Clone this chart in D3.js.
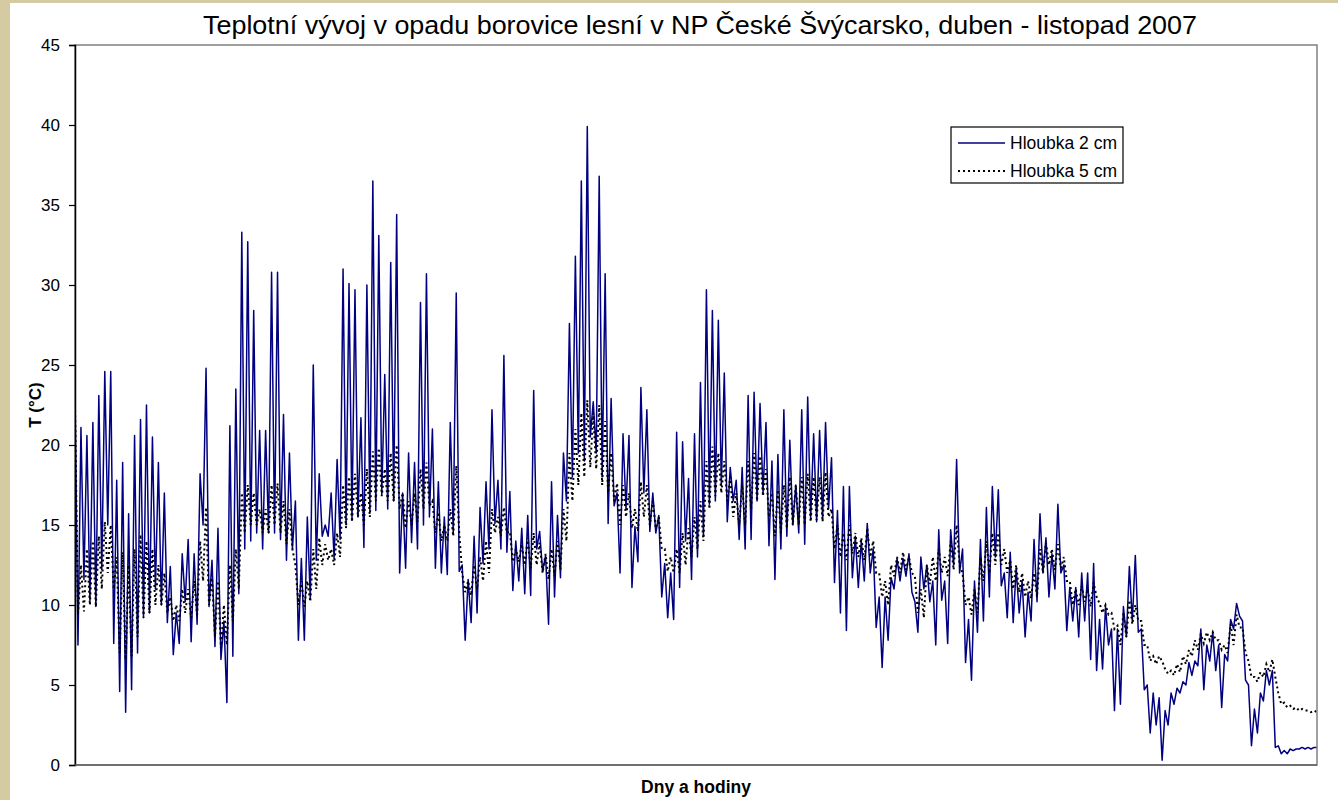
<!DOCTYPE html>
<html>
<head>
<meta charset="utf-8">
<script src="https://cdn.jsdelivr.net/npm/d3@7"></script>
<style>
  body { margin: 0; background: #fff; }
  svg { display: block; font-family: Arial, "Liberation Sans", sans-serif; }
</style>
</head>
<body>
<svg id="chart" width="1338" height="800"></svg>
<script>
// chart texts
const chartTitle = "Teplotní vývoj v opadu borovice lesní v NP České Švýcarsko, duben - listopad 2007";
const yTitle = "T (°C)";
const xTitle = "Dny a hodiny";
const seriesNames = ["Hloubka 2 cm", "Hloubka 5 cm"];
const yTicks = [0, 5, 10, 15, 20, 25, 30, 35, 40, 45];

// daily maximum / minimum, one value per day (duben -> listopad)
const t2max = [
  23.3, 21.1, 20.6, 21.4, 23.1, 24.6, 24.6, 17.8, 18.9, 15.7,
  20.6, 21.6, 22.5, 20.5, 18.9, 17.0, 12.4, 9.5, 13.2, 14.1,
  13.2, 18.2, 24.8, 12.8, 14.8, 9.0, 21.2, 23.5, 33.3, 32.7,
  28.4, 20.9, 20.9, 30.8, 30.8, 21.9, 19.5, 16.5, 12.9, 15.5,
  25.0, 18.2, 15.0, 17.0, 19.1, 31.0, 30.1, 29.7, 21.7, 30.0,
  36.5, 33.1, 24.4, 31.4, 34.4, 17.0, 19.5, 18.9, 28.9, 30.7,
  21.0, 17.7, 15.5, 21.4, 29.5, 12.5, 11.6, 14.3, 16.1, 17.7,
  22.2, 17.8, 25.6, 17.1, 14.0, 14.8, 15.6, 23.4, 14.6, 13.1,
  17.7, 15.6, 19.5, 27.6, 31.8, 36.5, 39.9, 22.7, 36.8, 30.7,
  22.9, 17.0, 20.7, 20.6, 14.9, 23.6, 22.2, 17.0, 15.6, 12.6,
  12.0, 20.8, 20.2, 17.9, 20.7, 23.9, 29.7, 28.4, 27.8, 24.5,
  18.6, 17.8, 18.6, 23.1, 23.3, 22.6, 21.4, 19.0, 19.4, 22.2,
  20.3, 17.5, 22.2, 23.0, 20.7, 20.9, 21.4, 19.2, 15.9, 17.4,
  17.4, 14.3, 14.0, 15.1, 13.5, 10.5, 10.5, 11.7, 12.9, 12.9,
  13.2, 10.2, 13.0, 12.5, 11.5, 14.7, 11.5, 14.7, 19.1, 13.5,
  9.1, 11.5, 14.1, 16.1, 17.4, 17.2, 12.0, 13.3, 12.3, 11.5,
  10.8, 14.1, 15.7, 14.2, 13.2, 16.3, 12.5, 11.1, 11.1, 12.0,
  12.0, 12.6, 9.1, 9.9, 8.5, 8.5, 9.9, 12.4, 13.1, 8.5,
  5.0, 4.5, 4.2, 3.4, 4.5, 4.8, 5.2, 6.4, 6.5, 8.5,
  7.5, 8.3, 7.5, 6.9, 9.1, 10.1, 9.0, 5.0, 3.5, 4.5,
  5.9, 5.9, 1.2, 0.9, 1.0, 1.0, 1.1, 1.1, 1.1
];
const t2min = [
  7.5, 11.6, 10.3, 9.9, 12.2, 15.0, 7.6, 4.6, 3.3, 4.7,
  7.0, 9.2, 9.5, 11.0, 10.0, 8.9, 6.9, 7.6, 10.2, 7.7,
  8.8, 15.0, 9.9, 7.4, 6.6, 3.9, 6.8, 10.7, 13.5, 14.0,
  14.5, 13.5, 14.5, 14.5, 14.1, 12.8, 13.5, 7.8, 7.8, 10.4,
  12.8, 14.3, 14.3, 12.9, 14.1, 15.1, 15.3, 15.5, 13.6, 15.9,
  15.9, 16.9, 16.0, 16.5, 12.0, 12.3, 13.9, 13.5, 15.0, 15.5,
  12.3, 12.0, 11.9, 14.5, 12.1, 7.8, 8.9, 9.5, 12.6, 13.5,
  15.1, 13.5, 13.3, 10.9, 11.5, 10.7, 10.6, 13.5, 12.1, 8.8,
  10.5, 11.7, 16.5, 18.0, 19.5, 19.0, 20.5, 19.5, 18.0, 15.1,
  16.2, 12.0, 16.0, 11.1, 12.7, 17.0, 14.6, 14.5, 10.5, 9.2,
  9.1, 11.1, 14.0, 11.6, 13.0, 14.3, 16.3, 16.5, 17.5, 15.2,
  16.5, 14.1, 13.5, 14.1, 16.5, 17.0, 13.7, 11.6, 13.5, 14.3,
  15.0, 14.5, 13.8, 15.4, 15.2, 15.4, 16.0, 11.4, 9.5, 8.4,
  11.7, 11.1, 11.5, 12.0, 8.6, 6.1, 7.8, 11.0, 11.5, 11.8,
  10.8, 8.3, 11.0, 10.2, 7.5, 10.3, 7.6, 12.5, 12.0, 6.4,
  5.3, 8.3, 9.0, 10.5, 13.0, 11.2, 9.2, 8.9, 9.5, 8.0,
  9.0, 10.2, 12.0, 10.5, 11.0, 12.0, 8.4, 9.0, 8.0, 9.0,
  6.6, 5.9, 6.0, 7.5, 3.4, 3.8, 8.0, 9.0, 8.3, 4.7,
  2.0, 2.5, 0.3, 2.5, 3.8, 4.5, 5.0, 5.6, 6.2, 4.7,
  6.5, 5.9, 3.6, 6.5, 8.5, 9.3, 5.3, 1.2, 2.0, 4.0,
  5.0, 1.1, 0.7, 0.7, 0.9, 1.0, 1.0, 1.0, 1.1
];
const t5max = [
  22.5, 12.5, 13.5, 14.0, 14.3, 15.2, 15.0, 13.0, 13.3, 12.5,
  13.5, 14.4, 14.0, 13.5, 12.5, 12.0, 10.5, 10.0, 11.0, 11.0,
  11.5, 14.0, 16.1, 11.7, 11.5, 10.0, 12.5, 13.5, 17.0, 17.5,
  17.0, 16.0, 16.0, 17.5, 17.6, 16.5, 16.0, 12.5, 11.5, 11.5,
  13.5, 14.2, 13.8, 13.5, 14.5, 17.5, 18.0, 18.2, 17.0, 18.5,
  19.6, 19.8, 18.5, 19.5, 20.0, 17.0, 16.5, 17.0, 18.5, 18.9,
  16.5, 15.8, 15.0, 16.0, 18.7, 12.0, 11.5, 12.5, 13.0, 14.0,
  16.0, 15.5, 16.1, 14.6, 13.5, 13.8, 14.2, 14.5, 13.9, 13.2,
  13.5, 14.0, 16.0, 19.5, 21.0, 22.0, 22.8, 22.0, 22.5, 21.5,
  19.5, 17.6, 17.5, 17.0, 16.0, 17.7, 17.5, 16.5, 15.5, 13.5,
  13.0, 13.5, 14.5, 14.8, 15.5, 16.5, 19.0, 19.9, 19.5, 19.0,
  18.0, 17.0, 17.5, 19.0, 19.5, 19.3, 18.5, 17.0, 17.2, 17.5,
  18.0, 17.5, 18.0, 18.2, 18.0, 18.0, 18.3, 16.0, 15.0, 14.5,
  15.0, 14.5, 14.2, 14.8, 14.0, 12.0, 11.5, 12.5, 13.0, 13.3,
  13.0, 11.8, 11.0, 12.5, 13.0, 13.5, 13.0, 14.0, 15.0, 12.0,
  10.5, 11.0, 13.0, 14.0, 14.5, 14.5, 13.5, 12.8, 12.5, 12.0,
  11.5, 12.0, 13.5, 13.9, 13.5, 13.8, 13.0, 11.5, 11.0, 11.2,
  11.0, 11.4, 10.1, 10.0, 9.5, 8.7, 9.5, 10.3, 10.0, 9.0,
  7.5, 6.8, 6.8, 6.0, 5.9, 6.3, 6.8, 7.2, 7.8, 8.2,
  8.3, 8.3, 7.8, 7.5, 8.8, 9.4, 8.6, 6.5, 5.5, 5.8,
  6.3, 6.6, 4.5, 3.9, 3.7, 3.6, 3.5, 3.4, 3.4
];
const t5min = [
  9.4, 9.6, 10.0, 9.9, 11.0, 12.0, 11.0, 7.0, 6.6, 6.8,
  8.0, 9.2, 9.5, 10.0, 10.0, 9.5, 9.0, 9.0, 9.5, 9.2,
  9.4, 11.5, 10.0, 8.0, 7.3, 7.5, 9.0, 11.0, 14.5, 15.0,
  15.0, 14.5, 14.5, 15.0, 14.5, 13.8, 13.5, 10.0, 9.9, 10.2,
  11.0, 12.5, 12.8, 12.5, 13.0, 14.8, 15.2, 15.5, 15.0, 15.5,
  16.5, 16.8, 16.5, 16.5, 16.0, 14.8, 15.0, 15.2, 16.0, 16.2,
  14.5, 14.0, 14.0, 14.3, 14.5, 10.8, 10.6, 11.0, 11.5, 12.0,
  14.5, 14.3, 14.5, 12.7, 12.7, 12.5, 12.3, 12.5, 12.0, 11.6,
  11.8, 12.2, 14.0, 16.5, 17.5, 18.0, 18.6, 18.5, 17.5, 17.0,
  16.5, 15.0, 15.5, 14.8, 14.6, 15.5, 15.0, 14.8, 13.5, 12.1,
  12.0, 12.0, 12.5, 13.0, 13.5, 14.0, 16.0, 16.8, 17.0, 16.5,
  15.5, 15.0, 15.0, 16.0, 16.5, 16.8, 15.5, 14.3, 14.5, 14.8,
  15.0, 15.0, 15.0, 15.2, 15.3, 15.2, 15.5, 13.5, 13.0, 12.8,
  13.2, 13.0, 12.8, 13.0, 12.0, 10.5, 10.0, 11.8, 12.0, 12.2,
  12.0, 9.5, 9.2, 11.3, 11.5, 12.0, 11.8, 12.2, 12.5, 10.0,
  9.4, 9.5, 11.5, 12.0, 12.5, 12.5, 12.0, 11.0, 10.8, 10.5,
  10.4, 10.5, 12.0, 12.5, 12.2, 12.3, 11.5, 10.0, 10.0, 10.2,
  9.9, 10.5, 9.5, 9.4, 8.5, 7.5, 8.0, 8.8, 9.0, 7.5,
  6.5, 6.3, 6.5, 5.7, 5.6, 5.8, 6.3, 6.8, 7.2, 7.6,
  7.8, 7.8, 7.2, 7.0, 7.5, 8.6, 7.0, 5.5, 5.2, 5.5,
  5.8, 5.5, 3.8, 3.6, 3.5, 3.4, 3.4, 3.3, 3.3
];

const W = 1338, H = 800;
const plot = { left: 75, top: 45, right: 1317, bottom: 765 };
const beige = "#d4cba2";
const blue = "#000080";

const svg = d3.select("#chart");

// beige frame on the left and top edge
svg.append("rect").attr("x", 0).attr("y", 0).attr("width", 10).attr("height", H).attr("fill", beige);
svg.append("rect").attr("x", 0).attr("y", 0).attr("width", W).attr("height", 3).attr("fill", beige);

const nDays = t2max.length;
const x = d3.scaleLinear().domain([1, nDays + 0.5]).range([plot.left, plot.right]);
const y = d3.scaleLinear().domain([0, 45]).range([plot.bottom, plot.top]);

// two readings per day: the maximum, then the minimum half a day later
function dayPoints(maxArr, minArr) {
  const pts = [];
  maxArr.forEach((v, i) => {
    pts.push([i + 1, v]);
    pts.push([i + 1.5, minArr[i]]);
  });
  return pts;
}

svg.append("clipPath").attr("id", "clip")
  .append("rect")
  .attr("x", plot.left).attr("y", plot.top)
  .attr("width", plot.right - plot.left).attr("height", plot.bottom - plot.top);

const line = d3.line().x(d => x(d[0])).y(d => y(d[1]));

const g = svg.append("g").attr("clip-path", "url(#clip)");
g.append("path")
  .datum(dayPoints(t2max, t2min))
  .attr("d", line)
  .attr("fill", "none")
  .attr("stroke", blue)
  .attr("stroke-width", 1.5)
  .attr("stroke-linejoin", "round");
g.append("path")
  .datum(dayPoints(t5max, t5min))
  .attr("d", line)
  .attr("fill", "none")
  .attr("stroke", "#000")
  .attr("stroke-width", 2)
  .attr("stroke-dasharray", "2,3");

// plot border
svg.append("rect")
  .attr("x", plot.left).attr("y", plot.top)
  .attr("width", plot.right - plot.left).attr("height", plot.bottom - plot.top)
  .attr("fill", "none").attr("stroke", "#808080").attr("stroke-width", 1.5);

// y axis
const yAxis = svg.append("g")
  .attr("transform", `translate(${plot.left},0)`)
  .call(d3.axisLeft(y).tickValues(yTicks).tickSize(6).tickPadding(9).tickFormat(d3.format("d")));
yAxis.select(".domain").attr("stroke", "#000").attr("stroke-width", 1.5);
yAxis.selectAll(".tick line").attr("stroke", "#000").attr("stroke-width", 1.2);
yAxis.selectAll(".tick text").attr("fill", "#000").style("font-size", "17px").style("font-family", "Arial, 'Liberation Sans', sans-serif");

// bottom axis line
svg.append("line")
  .attr("x1", plot.left).attr("x2", plot.right)
  .attr("y1", plot.bottom).attr("y2", plot.bottom)
  .attr("stroke", "#606060").attr("stroke-width", 1.5);

// titles
svg.append("text")
  .attr("x", 700).attr("y", 34)
  .attr("text-anchor", "middle")
  .attr("textLength", 994)
  .attr("lengthAdjust", "spacingAndGlyphs")
  .style("font-size", "26px")
  .text(chartTitle);

svg.append("text")
  .attr("transform", `translate(41,${(plot.top + plot.bottom) / 2}) rotate(-90)`)
  .attr("text-anchor", "middle")
  .style("font-size", "17px").style("font-weight", "bold")
  .text(yTitle);

svg.append("text")
  .attr("x", (plot.left + plot.right) / 2).attr("y", 793)
  .attr("text-anchor", "middle")
  .style("font-size", "17.5px").style("font-weight", "bold")
  .text(xTitle);

// legend
const legend = svg.append("g");
legend.append("rect")
  .attr("x", 951).attr("y", 127).attr("width", 172).attr("height", 56)
  .attr("fill", "#fff").attr("stroke", "#000").attr("stroke-width", 1.2);
const styles = [
  { stroke: blue, width: 1.5, dash: null },
  { stroke: "#000", width: 2, dash: "2,3" }
];
seriesNames.forEach((name, i) => {
  const cy = 143 + i * 28;
  legend.append("line")
    .attr("x1", 958).attr("x2", 1005).attr("y1", cy).attr("y2", cy)
    .attr("stroke", styles[i].stroke).attr("stroke-width", styles[i].width)
    .attr("stroke-dasharray", styles[i].dash);
  legend.append("text")
    .attr("x", 1010).attr("y", cy).attr("dy", "0.35em")
    .style("font-size", "17.5px")
    .text(name);
});
</script>
</body>
</html>
